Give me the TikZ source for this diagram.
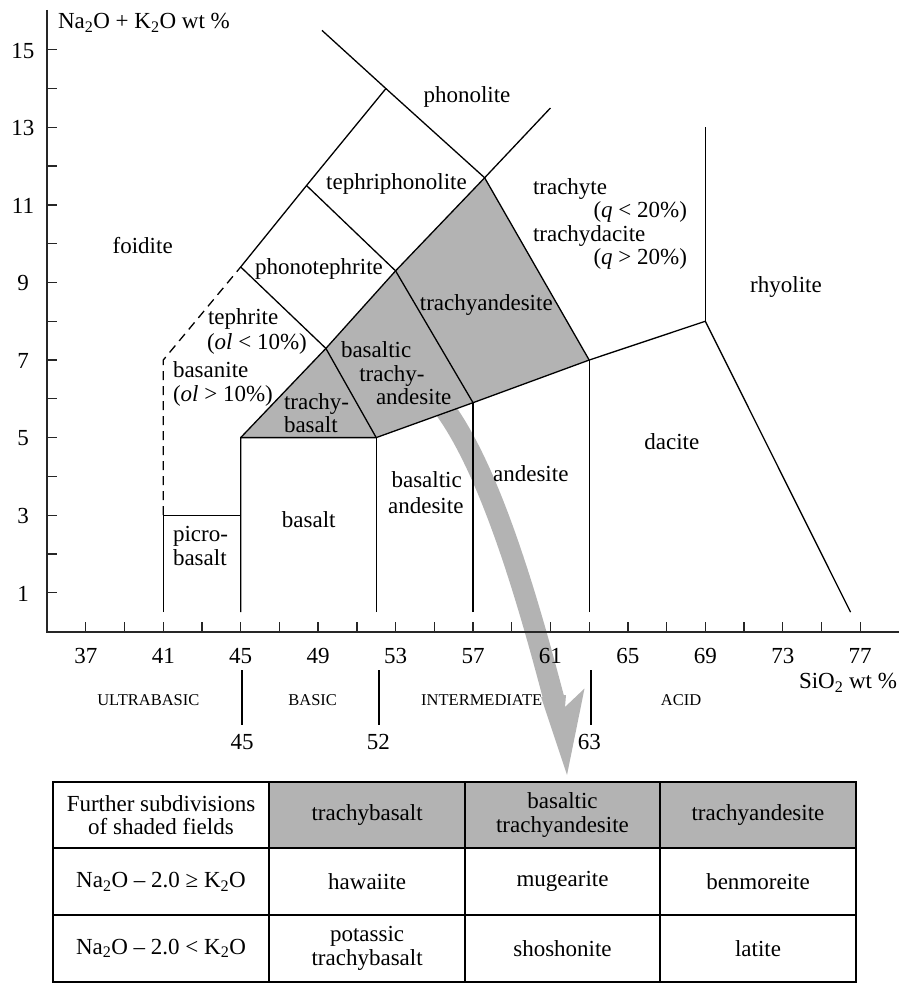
\documentclass[tikz,border=0pt]{standalone}
\usepackage{fontspec}
\setmainfont{Liberation Serif}
\definecolor{fieldgray}{RGB}{179,179,179}
\begin{document}
\begin{tikzpicture}[x=1pt,y=-1pt,
  every node/.style={inner sep=0pt,outer sep=0pt},
  lbl/.style={font=\fontsize{23}{23.5}\selectfont},
  classlbl/.style={font=\fontsize{16.5}{18}\selectfont},
  boundary/.style={line width=1.3pt},
  dashedbound/.style={line width=1.3pt, dash pattern=on 9pt off 6pt},
  axisline/.style={line width=2pt, draw=black!85},
  axistick/.style={line width=1.3pt, draw=black!85},
  classsep/.style={line width=2pt},
  cell/.style={draw, line width=1.8pt, align=center, font=\fontsize{23}{23.5}\selectfont},
  headcell/.style={cell, fill=fieldgray},
  ]

\useasboundingbox (0,0) rectangle (901,983);

% ---------------- TAS plot in data coordinates (SiO2, Na2O+K2O)
\begin{scope}[shift={(-630.5,631.5)}, x=19.36pt, y=38.78pt]
  \coordinate (v41a) at (41,0.5);
  \coordinate (v41b) at (41,3);
  \coordinate (v45a) at (45,0.5);
  \coordinate (v45b) at (45,3);
  \coordinate (v45c) at (45,5);
  \coordinate (v52a) at (52,0.5);
  \coordinate (v52b) at (52,5);
  \coordinate (v57a) at (57,0.5);
  \coordinate (v57b) at (57,5.9);
  \coordinate (v63a) at (63,0.5);
  \coordinate (v63b) at (63,7);
  \coordinate (v69a) at (69,8);
  \coordinate (v69b) at (69,13);
  \coordinate (v77)  at (76.5,0.5);
  \coordinate (tb)   at (49.4,7.3);
  \coordinate (bta)  at (53,9.3);
  \coordinate (ta)   at (57.6,11.7);
  \coordinate (tr)   at (61,13.5);
  \coordinate (t41)  at (41,7);
  \coordinate (t45)  at (45,9.4);
  \coordinate (pt)   at (48.4,11.5);
  \coordinate (tp)   at (52.5,14);
  \coordinate (ph)   at (49.2,15.5);
  \coordinate (origin) at (35,0);
  \coordinate (ytop) at (35,16.03);
  \coordinate (xend) at (79,0);

  % shaded fields
  \fill[fieldgray] (v45c) -- (tb) -- (bta) -- (ta) -- (v63b) -- (v57b) -- (v52b) -- cycle;
\end{scope}

% ---------------- grey arrow to the table
\coordinate (arrS) at (441,404);
\coordinate (arrE) at (555,703);
\draw[fieldgray, line width=21pt] (arrS) .. controls (492,470) and (531,612) .. (arrE);
\fill[fieldgray] (541,697) -- (567,775) -- (584.5,688.5) -- (565,707) -- (566,695) -- cycle;

\begin{scope}[shift={(-630.5,631.5)}, x=19.36pt, y=38.78pt]
  % field boundaries
  \draw[boundary] (v41a) -- (v41b) -- (v45b);
  \draw[dashedbound] (v41b) -- (t41) -- (t45);
  \draw[boundary] (v45a) -- (v45c) -- (v52b) -- (v57b) -- (v63b) -- (v69a) -- (v77);
  \draw[boundary] (v69a) -- (v69b);
  \draw[boundary] (v52a) -- (v52b);
  \draw[boundary] (v57a) -- (v57b);
  \draw[boundary] (v63a) -- (v63b);
  \draw[boundary] (v45c) -- (tb) -- (bta) -- (ta) -- (tr);
  \draw[boundary] (t45) -- (tb) -- (v52b);
  \draw[boundary] (pt) -- (bta) -- (v57b);
  \draw[boundary] (ph) -- (tp) -- (ta) -- (v63b);
  \draw[boundary] (t45) -- (pt) -- (tp);

  % axes and ticks
  \foreach \a in {1,...,15} \draw[axistick] (35,\a) -- ++(10pt,0);
  \foreach \s in {37,39,...,77} \draw[axistick] (\s,0) -- ++(0,10pt);
  \draw[axisline] (ytop) -- (origin) -- (xend);
\end{scope}

% ---------------- axis labels
\foreach \a in {1,3,...,15}
  \node[lbl,anchor=base] (ylab\a) at (23,{631.5-38.78*\a+8.3}) {\a};
\foreach \s in {37,41,...,77}
  \node[lbl,anchor=base] (xlab\s) at ({47.1+(\s-35)*19.36},663.3) {\s};
\node[lbl,anchor=base west] (ytitle) at (58,28.5) {Na\textsubscript{2}O + K\textsubscript{2}O wt \%};
\node[lbl,anchor=base east] (xtitle) at (897,688.3) {SiO\textsubscript{2} wt \%};

% ---------------- field names
\node[lbl,anchor=base] (foidite) at (142.7,253.5) {foidite};
\node[lbl,anchor=base] (phonotephrite) at (319,274) {phonotephrite};
\node[lbl,anchor=base] (tephriphonolite) at (396.5,189) {tephriphonolite};
\node[lbl,anchor=base] (phonolite) at (467,102.5) {phonolite};
\node[lbl,anchor=base west] (trachyte) at (533,194) {trachyte};
\node[lbl,anchor=base east] (qlow) at (687,217.5) {(\textit{q} < 20\%)};
\node[lbl,anchor=base west] (trachydacite) at (533,241) {trachydacite};
\node[lbl,anchor=base east] (qhigh) at (687,264) {(\textit{q} > 20\%)};
\node[lbl,anchor=base] (rhyolite) at (786,292.5) {rhyolite};
\node[lbl,anchor=base west] (tephrite) at (208,324) {tephrite};
\node[lbl,anchor=base west] (ollow) at (207,349) {(\textit{ol} < 10\%)};
\node[lbl,anchor=base west] (basanite) at (173,377.5) {basanite};
\node[lbl,anchor=base west] (olhigh) at (173,401) {(\textit{ol} > 10\%)};
\node[lbl,anchor=base west] (tbA) at (284,409) {trachy-};
\node[lbl,anchor=base west] (tbB) at (284,432.5) {basalt};
\node[lbl,anchor=base west] (btaA) at (341,357) {basaltic};
\node[lbl,anchor=base west] (btaB) at (359.3,381) {trachy-};
\node[lbl,anchor=base west] (btaC) at (376,404) {andesite};
\node[lbl,anchor=base] (trachyandesite) at (486.3,310) {trachyandesite};
\node[lbl,anchor=base west] (pbA) at (173,541) {picro-};
\node[lbl,anchor=base west] (pbB) at (173,565) {basalt};
\node[lbl,anchor=base] (basalt) at (308.8,527.5) {basalt};
\node[lbl,anchor=base] (baA) at (426.7,487.5) {basaltic};
\node[lbl,anchor=base] (baB) at (425.8,513.5) {andesite};
\node[lbl,anchor=base] (andesite) at (530.8,481) {andesite};
\node[lbl,anchor=base] (dacite) at (671.8,449) {dacite};

% ---------------- silica classes
\node[classlbl,anchor=base] (ultrabasic) at (148.3,705) {ULTRABASIC};
\node[classlbl,anchor=base] (basic) at (312.7,705) {BASIC};
\node[classlbl,anchor=base] (intermediate) at (481.7,705) {INTERMEDIATE};
\node[classlbl,anchor=base] (acid) at (681,705) {ACID};
\coordinate (s45t) at (242,670);  \coordinate (s45b) at (242,725);
\coordinate (s52t) at (379,670);  \coordinate (s52b) at (379,725);
\coordinate (s63t) at (590.5,670);\coordinate (s63b) at (590.5,725);
\draw[classsep] (s45t) -- (s45b);
\draw[classsep] (s52t) -- (s52b);
\draw[classsep] (s63t) -- (s63b);
\node[lbl,anchor=base] (b45) at (242,749.3) {45};
\node[lbl,anchor=base] (b52) at (378.3,749.3) {52};
\node[lbl,anchor=base] (b63) at (589.3,749.3) {63};

% ---------------- table of subdivisions
\node[cell, minimum width=216.6pt, minimum height=66.7pt] (c11) at (161,815) {Further subdivisions\\of shaded fields};
\node[headcell, minimum width=195.7pt, minimum height=66.7pt] (c12) at (367.15,815) {trachybasalt};
\node[headcell, minimum width=195pt, minimum height=66.7pt] (c13) at (562.5,815) {basaltic\\trachyandesite};
\node[headcell, minimum width=196pt, minimum height=66.7pt] (c14) at (758,815) {trachyandesite};
\node[cell, minimum width=216.6pt, minimum height=66.7pt] (c21) at (161,881.65) {Na\textsubscript{2}O – 2.0 ≥ K\textsubscript{2}O};
\node[cell, minimum width=195.7pt, minimum height=66.7pt] (c22) at (367.15,881.65) {hawaiite};
\node[cell, minimum width=195pt, minimum height=66.7pt] (c23) at (562.5,881.65) {mugearite};
\node[cell, minimum width=196pt, minimum height=66.7pt] (c24) at (758,881.65) {benmoreite};
\node[cell, minimum width=216.6pt, minimum height=66.7pt] (c31) at (161,948.35) {Na\textsubscript{2}O – 2.0 < K\textsubscript{2}O};
\node[cell, minimum width=195.7pt, minimum height=66.7pt] (c32) at (367.15,948.35) {potassic\\trachybasalt};
\node[cell, minimum width=195pt, minimum height=66.7pt] (c33) at (562.5,948.35) {shoshonite};
\node[cell, minimum width=196pt, minimum height=66.7pt] (c34) at (758,948.35) {latite};
\end{tikzpicture}
\end{document}
